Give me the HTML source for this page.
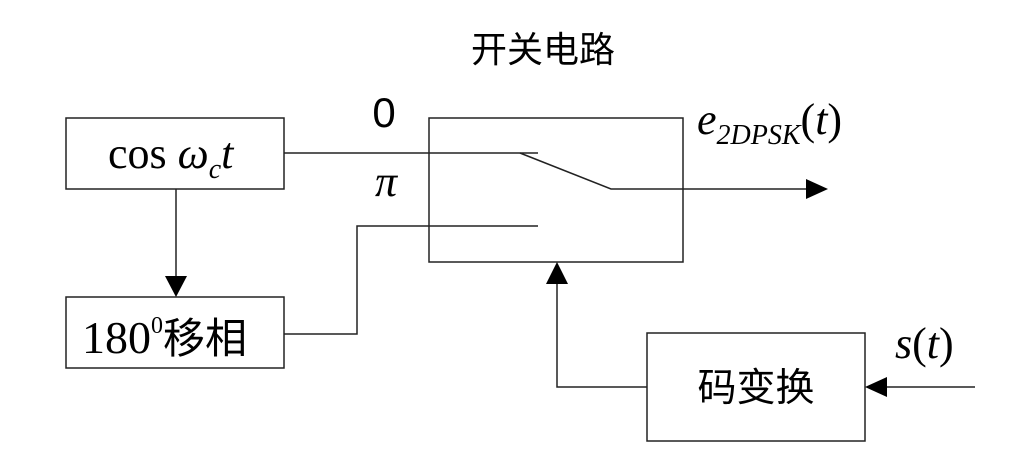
<!DOCTYPE html>
<html><head><meta charset="utf-8"><style>
html,body{margin:0;padding:0;background:#fff;}
svg{display:block;}
.s{font-family:"Liberation Sans","Noto Sans CJK SC",sans-serif;}
.r{font-family:"Liberation Serif","Noto Sans CJK SC",serif;}
</style></head><body>
<svg width="1010" height="461" viewBox="0 0 1010 461" xmlns="http://www.w3.org/2000/svg">
<g fill="none" stroke="#222" stroke-width="1.5">
<rect x="66" y="118" width="218" height="71"/>
<rect x="66" y="297" width="218" height="71"/>
<rect x="429" y="118" width="254" height="144"/>
<rect x="647" y="333" width="218" height="108"/>
<polyline points="284,153 538,153"/>
<polyline points="520,153 611,189 808,189"/>
<polyline points="284,334 357,334 357,226 538,226"/>
<polyline points="176,189 176,278"/>
<polyline points="647,387 557,387 557,282"/>
<polyline points="975,387 885,387"/>
</g>
<g fill="#000">
<polygon points="806,179 828,189 806,199"/>
<polygon points="165,276 187,276 176,297"/>
<polygon points="546,284 568,284 557,262"/>
<polygon points="887,377 887,397 865,387"/>
</g>
<text x="543" y="62" class="s" style="font-size:36px" text-anchor="middle">开关电路</text>
<text x="384" y="127" class="s" style="font-size:42px" text-anchor="middle">0</text>
<text x="386" y="196" class="r" style="font-size:44px;font-style:italic" text-anchor="middle">π</text>
<text x="108" y="168" class="r" style="font-size:44px">cos <tspan style="font-style:italic">ω</tspan><tspan style="font-style:italic;font-size:28px" dy="10">c</tspan><tspan style="font-style:italic" dy="-10">t</tspan></text>
<text x="82" y="353" class="r" style="font-size:46px">180<tspan style="font-size:24px" dy="-20">0</tspan><tspan dy="20" style="font-family:'Noto Sans CJK SC',sans-serif;font-size:42px">移相</tspan></text>
<text x="697" y="134" class="r" style="font-size:44px;font-style:italic">e<tspan style="font-size:28px" dy="10">2DPSK</tspan><tspan dy="-10" style="font-style:normal">(</tspan>t<tspan style="font-style:normal">)</tspan></text>
<text x="895" y="358" class="r" style="font-size:44px;font-style:italic">s<tspan style="font-style:normal">(</tspan>t<tspan style="font-style:normal">)</tspan></text>
<text x="756" y="401" class="s" style="font-size:39px" text-anchor="middle">码变换</text>
</svg>
</body></html>
